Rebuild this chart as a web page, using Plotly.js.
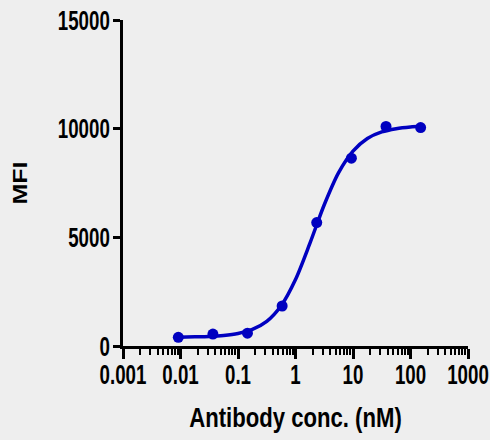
<!DOCTYPE html>
<html>
<head>
<meta charset="utf-8">
<script src="https://cdn.plot.ly/plotly-3.0.1.min.js"></script>
<style>
  html, body { margin: 0; padding: 0; background: #eeeeee; }
  #chart { width: 490px; height: 440px; }
</style>
</head>
<body>
<div id="chart"></div>
<script>
// Measured data points (antibody concentration in nM, MFI)
const concentrations = [0.00916, 0.0366, 0.146, 0.586, 2.34, 9.38, 37.5, 150];
const mfiValues = [400, 550, 590, 1840, 5680, 8640, 10100, 10050];

// Fitted curve
const curveConc = [0.00916, 0.01778, 0.03162, 0.05623, 0.1, 0.1778, 0.3162, 0.5623, 1, 1.778, 3.162, 5.623, 10, 17.78, 31.62, 56.23, 100, 150];
const curveMfi = [405, 420, 440, 485, 575, 760, 1130, 1850, 3060, 4720, 6500, 7980, 8970, 9550, 9850, 10000, 10080, 10110];

// Axis tick labels
const xTickVals = [0.001, 0.01, 0.1, 1, 10, 100, 1000];
const xTickText = ['0.001', '0.01', '0.1', '1', '10', '100', '1000'];
const yTickVals = [0, 5000, 10000, 15000];
const yTickText = ['0', '5000', '10000', '15000'];

const blue = '#0000c0';
const sans = '"Liberation Sans", Arial, sans-serif';

const traces = [
  {
    x: curveConc, y: curveMfi, type: 'scatter', mode: 'lines',
    line: { color: blue, width: 3.5, shape: 'spline', smoothing: 0.8 },
    hoverinfo: 'skip', showlegend: false
  },
  {
    x: concentrations, y: mfiValues, type: 'scatter', mode: 'markers',
    marker: { color: blue, size: 11, symbol: 'circle' },
    showlegend: false
  }
];

const layout = {
  width: 490, height: 440,
  margin: { l: 123, r: 22, t: 20, b: 94 },
  paper_bgcolor: '#eeeeee', plot_bgcolor: '#eeeeee',
  font: { family: sans, color: '#000000' },
  xaxis: {
    type: 'log', range: [-3, 3],
    tickvals: xTickVals, ticktext: xTickText,
    tickangle: 0,
    showgrid: false, zeroline: false,
    showline: true, linecolor: '#000', linewidth: 3,
    ticks: 'outside', ticklen: 10, tickwidth: 3, tickcolor: '#000',
    minor: { ticks: 'outside', ticklen: 6, tickwidth: 2, tickcolor: '#000', dtick: 'D1', showgrid: false },
    ticklabeloverflow: 'allow',
    ticklabelstandoff: -7,
    tickfont: { family: sans, size: 26, weight: 'bold', color: '#000' },
    title: { text: 'Antibody conc. (nM)', font: { family: sans, size: 27, weight: 'bold', color: '#000' }, standoff: 20 }
  },
  yaxis: {
    range: [0, 15000],
    tickvals: yTickVals, ticktext: yTickText,
    showgrid: false, zeroline: false,
    showline: true, linecolor: '#000', linewidth: 3,
    ticks: 'outside', ticklen: 7, tickwidth: 3, tickcolor: '#000',
    ticklabelstandoff: -2,
    tickfont: { family: sans, size: 26, weight: 'bold', color: '#000' },
    title: { text: 'MFI', font: { family: sans, size: 21, weight: 'bold', color: '#000' }, standoff: 5 }
  }
};

// Condense text horizontally (the reference uses a tall, narrow bold face)
function squeeze(el, sx, sy) {
  const bb = el.getBBox();
  const anchor = el.getAttribute('text-anchor') || 'start';
  let px = bb.x + bb.width / 2;
  if (anchor === 'end') px = bb.x + bb.width;
  if (anchor === 'start') px = bb.x;
  const py = bb.y + bb.height / 2;
  const prev = el.getAttribute('transform') || '';
  el.setAttribute('transform', prev + ' translate(' + px + ',' + py + ') scale(' + sx + ',' + sy + ') translate(' + (-px) + ',' + (-py) + ')');
}

Plotly.newPlot('chart', traces, layout, { displayModeBar: false, staticPlot: true }).then(function (gd) {
  gd.querySelectorAll('.xtick text, .ytick text').forEach(function (t) { squeeze(t, 0.72, 1.05); });
  gd.querySelectorAll('.g-xtitle text').forEach(function (t) { squeeze(t, 0.82, 1); });
  gd.querySelectorAll('.g-ytitle text').forEach(function (t) { squeeze(t, 1.19, 1); });
});
</script>
</body>
</html>
